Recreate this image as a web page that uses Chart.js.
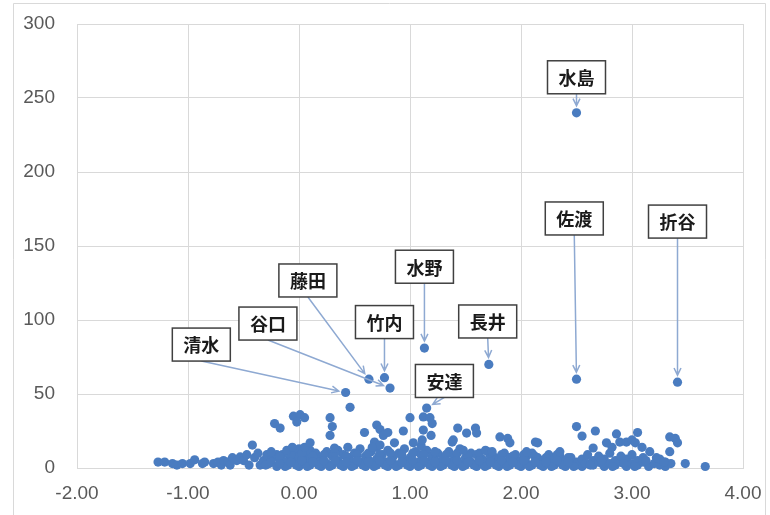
<!DOCTYPE html>
<html>
<head>
<meta charset="utf-8">
<script src="https://cdn.jsdelivr.net/npm/chart.js@4.4.0/dist/chart.umd.min.js"></script>
<style>
html, body { margin: 0; padding: 0; background: #fff; }
</style>
</head>
<body>
<canvas id="graphique" width="770" height="515"></canvas>
<script>
// points nommes
const names = ['水島', '佐渡', '折谷', '水野', '長井', '竹内', '藤田', '谷口', '清水', '安達'];
const nameX = [2.50, 2.50, 3.41, 1.13, 1.71, 0.77, 0.63, 0.82, 0.42, 1.15];
const nameY = [240, 60, 58, 81, 70, 61, 60, 54, 51, 40.5];

// autres points (x, y)
const scattered = [
  [0.46,41],[-0.05,35],[0.01,36],[-0.02,31],[0.05,34],[-0.22,30],[-0.17,27],
  [-0.42,15.5],[-0.11,12],[-0.06,14],[0.05,14],[0.10,17],[0.28,34],[0.30,28],[0.28,22],
  [0.32,13.5],[0.44,14],[0.59,24],[0.70,29],[0.73,26],[0.76,22],[0.80,24],[0.68,17.5],
  [0.73,15.5],[0.66,14],[0.86,17],[0.94,25],[1.00,34],[1.12,34.5],[1.18,34],[1.20,30],
  [1.12,25.6],[1.19,22],[1.11,19],[1.03,17],[1.38,17.5],[1.39,19],[1.43,27],[1.51,23.6],
  [1.59,27],[1.60,23.6],[1.48,12],[1.68,12],[1.74,11],[1.81,21],[1.88,20],[1.90,17],
  [2.05,11],[2.13,17.5],[2.15,17],[2.35,11],[2.50,28],[2.55,21.6],[2.67,25],[2.65,13.5],
  [2.77,17],[2.82,14],[2.86,23],[2.89,17.5],[2.95,17.5],[3.00,19],[3.03,17],[3.05,24],
  [3.09,14],[3.16,11],[3.22,7],[3.29,4],[3.34,21],[3.39,20],[3.41,17],[3.34,11],
  [3.48,3],[3.66,1]
];

const lowBand = [
  [-1.27,4],[-1.21,4],[-1.14,3],[-1.10,2],[-1.05,3],[-0.98,3],[-0.94,5.5],[-0.87,3],[-0.85,4],
  [-0.77,3],[-0.73,4],[-0.70,2],[-0.68,5],[-0.64,4],[-0.62,2],[-0.60,7],[-0.56,5],[-0.53,7.5],
  [-0.50,5],[-0.47,9],[-0.45,2],[-0.40,7],[-0.37,10],[-0.35,2],[-0.32,5],[-0.29,9],[-0.27,3],
  [-0.24,7],[-0.20,9],[-0.17,5],[-0.08,7],
  [-0.30,2],[-0.25,4],[-0.25,11],[-0.20,1],[-0.15,3],[-0.15,9],[-0.10,2],[-0.05,5],[-0.05,10],
  [0.00,1],[0.00,8],[0.00,13],[0.05,3],[0.05,9],[0.10,2],[0.10,6],[0.10,12],[0.15,4],[0.15,10],
  [0.20,1],[0.20,7],[0.25,3],[0.25,11],[0.30,2],[0.30,8],[0.35,5],[0.35,12],[0.40,1],[0.40,9],
  [0.45,3],[0.45,7],[0.50,2],[0.50,10],[0.55,4],[0.55,13],[0.60,1],[0.60,8],[0.65,3],[0.65,11],
  [0.70,2],[0.70,6],[0.70,14],[0.75,4],[0.75,9],[0.80,1],[0.80,12],[0.85,3],[0.85,8],[0.90,2],
  [0.90,10],[0.95,5],[0.95,13],[1.00,1],[1.00,7],[1.05,3],[1.05,11],[1.10,2],[1.10,9],[1.10,15],
  [1.15,4],[1.15,12],[1.20,1],[1.20,8],[1.25,3],[1.25,10],[1.30,2],[1.30,6],[1.35,4],[1.35,11],
  [1.40,1],[1.40,8],[1.45,3],[1.45,13],[1.50,2],[1.50,7],[1.55,4],[1.55,10],[1.60,1],[1.60,9],
  [1.65,3],[1.65,6],[1.70,2],[1.70,11],[1.75,4],[1.75,8],[1.80,1],[1.80,6],[1.85,3],[1.85,10],
  [1.90,2],[1.90,7],[1.95,4],[1.95,9],[2.00,1],[2.00,5],[2.05,3],[2.05,8],[2.10,2],[2.10,10],
  [2.15,4],[2.15,7],[2.20,1],[2.20,5],[2.25,3],[2.25,9],[2.30,2],[2.30,6],[2.35,4],[2.35,8],
  [2.40,1],[2.40,5],[2.45,3],[2.45,7],[2.50,2],[2.50,4],[2.55,1],[2.55,6],[2.60,3],[2.60,9],
  [2.65,2],[2.65,5],[2.70,4],[2.70,8],[2.75,1],[2.75,6],[2.80,3],[2.80,10],[2.85,2],[2.85,5],
  [2.90,4],[2.90,8],[2.95,1],[2.95,6],[3.00,3],[3.00,9],[3.05,2],[3.05,5],[3.10,4],[3.10,7],
  [3.15,1],[3.20,3],[3.25,2],[3.25,6],[3.30,1],[3.30,4],[3.35,3],
  [-0.12,4],[0.03,5],[0.18,4],[0.33,5],[0.48,4],[0.63,5],[0.78,4],[0.93,5],[1.08,4],[1.23,5],
  [1.38,4],[1.53,5],[1.68,4],[1.83,5],[1.98,3],[2.13,4],[2.28,3],[2.43,4],[2.58,3],[2.73,3]
];

// bande basse, deuxieme couche (zone la plus dense)
const lowBandDense = [
  [-0.175,8],[-0.125,1],[-0.075,9],[-0.025,2],[0.025,10],[0.075,1],[0.125,8],[0.175,2],
  [0.225,9],[0.275,1],[0.325,10],[0.375,2],[0.425,8],[0.475,1],[0.525,9],[0.575,2],
  [0.625,10],[0.675,1],[0.725,9],[0.775,2],[0.825,10],[0.875,1],[0.925,9],[0.975,2],
  [1.025,10],[1.075,1],[1.125,9],[1.175,2],[1.225,11],[1.275,1],[1.325,9],[1.375,2],
  [1.425,10],[1.475,1],[1.525,8],[1.575,2],[1.625,10],[1.675,1],[1.725,8],[1.775,2],
  [1.825,9],[1.875,1],[1.925,8],[1.975,2],[2.025,9],[2.075,1],[2.125,8],[2.175,2],
  [2.225,7],[2.275,1],[2.325,9],[2.375,2],[2.425,7],[2.475,1],
  [-0.175,3],[-0.075,4],[0.025,5],[0.125,4],[0.225,5],[0.325,5],[0.425,4],[0.525,5],
  [0.625,4],[0.725,5],[0.825,5],[0.925,4],[1.025,5],[1.125,5],[1.225,4],[1.325,5],
  [1.425,5],[1.525,4],[1.625,5],[1.725,4],[1.825,5],[1.925,4],[2.025,5],[2.125,4],
  [2.225,4],[2.325,5],[2.425,4],[2.625,2],[2.725,5],[2.825,1],[2.925,3],[3.025,1],[3.125,5]
];

const yTicks = [0, 50, 100, 150, 200, 250, 300];

// emplacement des etiquettes (en unites du graphique)
const labelPos = {
  '水島': [2.50, 264], '佐渡': [2.48, 168.6], '折谷': [3.41, 166.5], '水野': [1.13, 136],
  '長井': [1.70, 99], '竹内': [0.77, 98.6], '藤田': [0.08, 126.7], '谷口': [-0.28, 97.6],
  '清水': [-0.88, 83.4], '安達': [1.31, 58.8]
};

const pointColor = '#4a7cc0';
const arrowColor = '#8ea9d2';

const allPoints = lowBand.concat(lowBandDense, scattered).map(p => ({x: p[0], y: p[1]}))
  .concat(names.map((n, i) => ({x: nameX[i], y: nameY[i]})));

// cadre gris autour du graphique
const cadre = {
  id: 'cadre',
  beforeDraw(chart) {
    const c = chart.ctx;
    c.save();
    c.fillStyle = '#fff';
    c.fillRect(0, 0, chart.width, chart.height);
    c.strokeStyle = '#d9d9d9';
    c.lineWidth = 1;
    c.beginPath();
    c.moveTo(13.5, 520);
    c.lineTo(13.5, 3.5);
    c.lineTo(765.5, 3.5);
    c.lineTo(765.5, 520);
    c.stroke();
    c.restore();
  }
};

// etiquettes avec fleches
const etiquettes = {
  id: 'etiquettes',
  afterDatasetsDraw(chart) {
    const c = chart.ctx;
    const sx = chart.scales.x, sy = chart.scales.y;
    c.save();
    c.font = 'bold 18px "Noto Sans CJK JP"';
    names.forEach((n, i) => {
      const px = sx.getPixelForValue(nameX[i]);
      const py = sy.getPixelForValue(nameY[i]);
      const bx = sx.getPixelForValue(labelPos[n][0]);
      const by = sy.getPixelForValue(labelPos[n][1]);
      const w = c.measureText(n).width + 22, h = 33;
      // fleche
      const x0 = bx, y0 = by + h / 2;
      const dx = px - x0, dy = py - y0, len = Math.hypot(dx, dy);
      const ux = dx / len, uy = dy / len;
      const x1 = px - ux * 7, y1 = py - uy * 7;
      c.strokeStyle = arrowColor;
      c.lineWidth = 1.5;
      c.beginPath();
      c.moveTo(x0, y0);
      c.lineTo(x1, y1);
      const a = Math.atan2(uy, ux);
      c.moveTo(x1 - 8 * Math.cos(a - 0.45), y1 - 8 * Math.sin(a - 0.45));
      c.lineTo(x1, y1);
      c.lineTo(x1 - 8 * Math.cos(a + 0.45), y1 - 8 * Math.sin(a + 0.45));
      c.stroke();
      // boite
      c.fillStyle = '#fff';
      c.fillRect(bx - w / 2, by - h / 2, w, h);
      c.strokeStyle = '#404040';
      c.lineWidth = 1.5;
      c.strokeRect(bx - w / 2, by - h / 2, w, h);
      c.fillStyle = '#1a1a1a';
      c.textAlign = 'center';
      c.textBaseline = 'middle';
      c.fillText(n, bx, by + 1);
    });
    c.restore();
  }
};

new Chart(document.getElementById('graphique').getContext('2d'), {
  type: 'scatter',
  data: {
    datasets: [{
      data: allPoints,
      backgroundColor: pointColor,
      borderWidth: 0,
      pointRadius: 4.6,
      clip: false
    }]
  },
  options: {
    responsive: false,
    animation: false,
    layout: { padding: { top: 24, right: 27, left: 0, bottom: 0 } },
    plugins: { legend: { display: false }, tooltip: { enabled: false } },
    scales: {
      x: {
        type: 'linear', min: -2, max: 4,
        afterFit: s => { s.height = 47; s.paddingLeft = 0; s.paddingRight = 0; },
        ticks: {
          stepSize: 1, autoSkip: false, maxRotation: 0, padding: 14,
          color: '#595959', font: { family: 'Liberation Sans', size: 19 },
          callback: v => v.toFixed(2)
        },
        grid: { color: '#d9d9d9', drawTicks: false },
        border: { color: '#d9d9d9' }
      },
      y: {
        min: 0, max: 300,
        afterFit: s => { s.width = 77; s.paddingTop = 0; s.paddingBottom = 0; },
        afterBuildTicks: s => { s.ticks = yTicks.map(v => ({value: v})); },
        ticks: {
          padding: 22, color: '#595959', font: { family: 'Liberation Sans', size: 19 }
        },
        grid: { color: '#d9d9d9', drawTicks: false },
        border: { color: '#d9d9d9' }
      }
    }
  },
  plugins: [cadre, etiquettes]
});
</script>
</body>
</html>
